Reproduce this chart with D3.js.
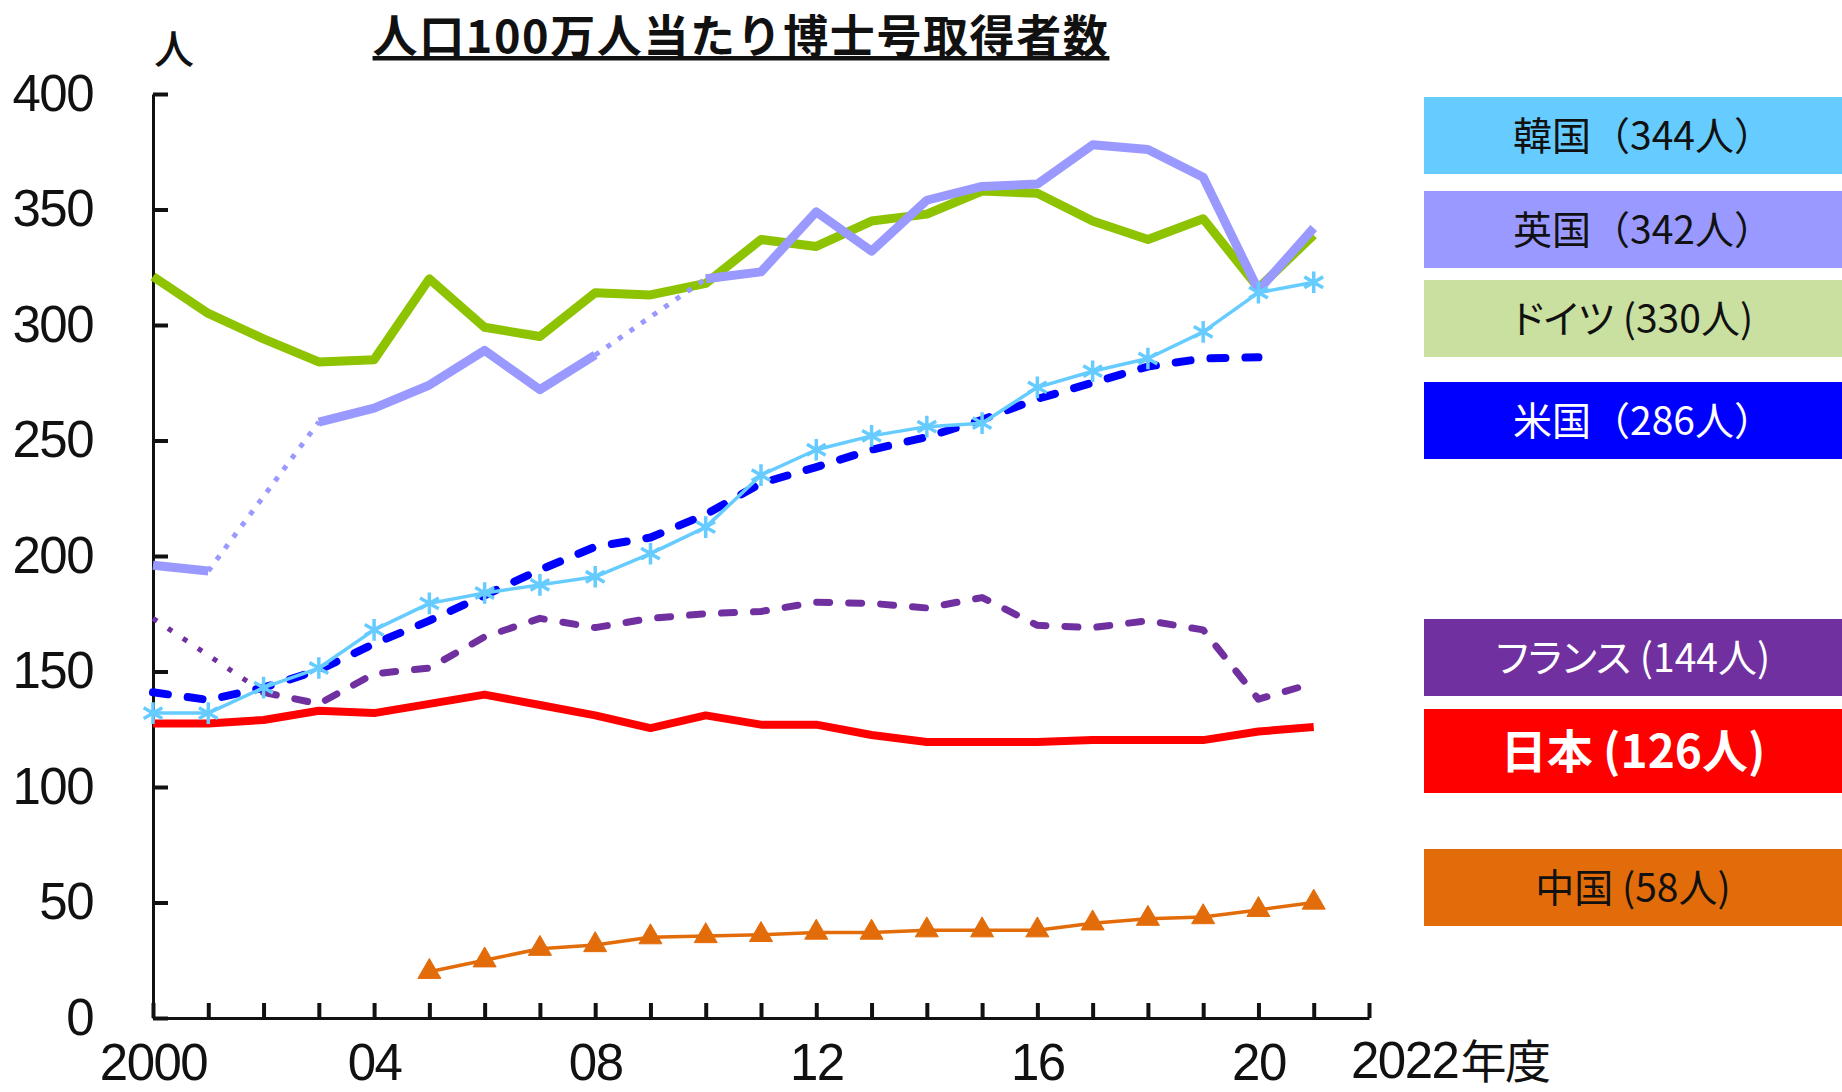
<!DOCTYPE html>
<html>
<head>
<meta charset="utf-8">
<script src="https://cdn.jsdelivr.net/npm/d3@7"></script>
<style>
body { margin: 0; background: #fff; }
svg { display: block; }
.axis text, text.axis { font-family: "Liberation Sans", Arial, sans-serif; fill: #111; letter-spacing: -1.5px; }
.legend text { font-family: "Noto Sans CJK JP", sans-serif; }
.legend text.palt { font-feature-settings: "palt"; }
</style>
</head>
<body>
<svg id="chart" width="1842" height="1092"></svg>
<script>
var years = [2000, 2001, 2002, 2003, 2004, 2005, 2006, 2007, 2008, 2009, 2010,
             2011, 2012, 2013, 2014, 2015, 2016, 2017, 2018, 2019, 2020, 2021];

// 人口100万人当たり博士号取得者数 (null = no data, bridged with dots)
var germany = [321, 305, 294, 284, 285, 320, 299, 295, 314, 313, 318,
               337, 334, 345, 348, 358, 357, 345, 337, 346, 316, 339];
var uk      = [196, 193.5, null, 258, 264, 274, 289, 272, 287, null, 320,
               323, 349, 332, 354, 360, 361, 378, 376, 364, 315, 342];
var france  = [173, null, 141, 136, 149, 151.5, 165, 173, 169, 173, 175,
               176, 180, 179.5, 177.5, 182, 170, 169, 172, 168, 138, 145];
var japan   = [127.5, 127.5, 129, 133, 132, 136, 140, 135.5, 131, 125.5, 131,
               127, 127, 122.5, 119.5, 119.5, 119.5, 120.3, 120.3, 120.3, 124, 126];
var usa     = [141, 137.7, 143, 150.6, 162, 172, 183, 194, 204, 208, 218,
               231.5, 238.5, 246, 251.5, 259, 268, 275, 282, 285.5, 286, null];
var korea   = [132, 132, 143, 151.5, 168, 179.5, 184, 187.5, 191, 201, 212.5,
               235, 246, 252, 256, 257.5, 273, 280, 285.5, 297, 314, 318.5];
var china   = [null, null, null, null, null, 20, 25, 30, 31.6, 35, 35.5,
               36, 37, 37, 38, 38, 38, 41, 43, 43.7, 46.8, 50];

var yTicks = [0, 50, 100, 150, 200, 250, 300, 350, 400];
var xTickYears = [2000, 2001, 2002, 2003, 2004, 2005, 2006, 2007, 2008, 2009, 2010, 2011,
                  2012, 2013, 2014, 2015, 2016, 2017, 2018, 2019, 2020, 2021, 2022];
var xLabelYears = [2000, 2004, 2008, 2012, 2016, 2020];
var xLabels = ["2000", "04", "08", "12", "16", "20"];

var legendLabels = ["韓国（344人）", "英国（342人）", "ドイツ (330人)", "米国（286人）",
                    "フランス (144人)", "日本 (126人)", "中国 (58人)"];

var chartTitle = "人口100万人当たり博士号取得者数";

// styles
var series = [
    {data: germany, color: "#8dc300", width: 9, dash: null, gap: "5 9"},
    {data: uk, color: "#9999ff", width: 9, dash: null, gap: "5 9"},
    {data: france, color: "#7030a0", width: 7, dash: "13 19", gap: "5 13"},
    {data: japan, color: "#ff0000", width: 8, dash: null, gap: "5 9"},
    {data: usa, color: "#0000ff", width: 8, dash: "15 20", gap: "5 9"},
    {data: korea, color: "#66ccff", width: 3.5, dash: null, gap: "5 9", marker: d3.symbolAsterisk, markerSize: 330},
    {data: china, color: "#e36c0a", width: 3.5, dash: null, gap: "5 9", marker: d3.symbolTriangle, markerSize: 230}
];
var legendStyle = [
    {fill: "#66ccff", text: "#111", weight: 400, top: 97, h: 77, dx: 10, palt: false},
    {fill: "#9999ff", text: "#111", weight: 400, top: 191, h: 77, dx: 10, palt: false},
    {fill: "#c9e0a0", text: "#111", weight: 400, top: 280, h: 77, dx: 0, palt: true},
    {fill: "#0000ff", text: "#fff", weight: 400, top: 382, h: 77, dx: 10, palt: false},
    {fill: "#7030a0", text: "#fff", weight: 400, top: 619, h: 77, dx: 0, palt: true},
    {fill: "#ff0000", text: "#fff", weight: 700, top: 709, h: 84, dx: 0, palt: true},
    {fill: "#e36c0a", text: "#111", weight: 400, top: 849, h: 77, dx: 0, palt: true}
];

var svg = d3.select("#chart"),
    margin = {top: 94, left: 153, right: 473, bottom: 74},
    width = +svg.attr("width") - margin.left - margin.right,
    height = +svg.attr("height") - margin.top - margin.bottom;

var xScale = d3.scaleLinear().domain([2000, 2022]).range([0, width]),
    yScale = d3.scaleLinear().domain([0, 400]).range([height, 0]);

var g = svg.append("g")
    .attr("transform", "translate(" + margin.left + "," + margin.top + ")");

// title
svg.append("text")
    .attr("x", 741)
    .attr("y", 53)
    .attr("text-anchor", "middle")
    .attr("font-family", "Noto Sans CJK JP")
    .attr("font-weight", 700)
    .attr("font-size", 45)
    .attr("letter-spacing", "1.6px")
    .attr("fill", "#111")
    .style("text-decoration", "underline")
    .text(chartTitle);

svg.append("text")
    .attr("x", 174)
    .attr("y", 64)
    .attr("text-anchor", "middle")
    .attr("font-family", "Noto Sans CJK JP")
    .attr("font-weight", 500)
    .attr("font-size", 40)
    .attr("fill", "#111")
    .text("人");

// axes
g.append("g")
    .attr("class", "axis")
    .call(d3.axisLeft(yScale).tickValues(yTicks).tickSizeInner(-15).tickSizeOuter(0).tickPadding(60));

g.append("g")
    .attr("class", "axis")
    .attr("transform", "translate(0," + height + ")")
    .call(d3.axisBottom(xScale).tickValues(xTickYears).tickSizeInner(-15).tickSizeOuter(0).tickPadding(26)
        .tickFormat(function(d) {
            var i = xLabelYears.indexOf(d);
            return i < 0 ? "" : xLabels[i];
        }));

g.selectAll(".axis .domain").attr("stroke", "#111").attr("stroke-width", 3);
g.selectAll(".axis .tick line").attr("stroke", "#111").attr("stroke-width", 4);
g.selectAll(".axis text").attr("font-size", 51);

g.append("text")
    .attr("class", "axis")
    .attr("x", xScale(2022) - 18)
    .attr("y", height + 60)
    .attr("font-size", 51)
    .call(function(t) {
        t.append("tspan").text("2022");
        t.append("tspan").attr("font-family", "Noto Sans CJK JP").attr("font-size", 46).attr("dx", 2).text("年度");
    });

// lines
var line = d3.line()
    .defined(function(d) { return d != null; })
    .x(function(d, i) { return xScale(years[i]); })
    .y(function(d) { return yScale(d); });

series.forEach(function(s) {
    // dotted bridges over missing years
    var idx = [];
    s.data.forEach(function(v, i) { if (v != null) idx.push(i); });
    for (var k = 1; k < idx.length; k++) {
        if (idx[k] - idx[k - 1] > 1) {
            var a = idx[k - 1], b = idx[k];
            g.append("line")
                .attr("x1", xScale(years[a])).attr("y1", yScale(s.data[a]))
                .attr("x2", xScale(years[b])).attr("y2", yScale(s.data[b]))
                .attr("stroke", s.color)
                .attr("stroke-width", 5)
                .attr("stroke-dasharray", s.gap);
        }
    }

    g.append("path")
        .datum(s.data)
        .attr("fill", "none")
        .attr("stroke", s.color)
        .attr("stroke-width", s.width)
        .attr("stroke-linejoin", "round")
        .attr("stroke-linecap", s.dash ? "round" : "butt")
        .attr("stroke-dasharray", s.dash)
        .attr("d", line);

    if (s.marker) {
        var sym = d3.symbol().type(s.marker).size(s.markerSize);
        g.selectAll(null)
            .data(s.data.map(function(v, i) { return {v: v, yr: years[i]}; })
                .filter(function(d) { return d.v != null; }))
            .enter().append("path")
            .attr("transform", function(d) { return "translate(" + xScale(d.yr) + "," + yScale(d.v) + ")"; })
            .attr("d", sym)
            .attr("fill", s.marker === d3.symbolAsterisk ? "none" : s.color)
            .attr("stroke", s.color)
            .attr("stroke-width", s.marker === d3.symbolAsterisk ? 3.5 : 1);
    }
});

// legend boxes
var legend = svg.append("g").attr("class", "legend");
legendLabels.forEach(function(label, i) {
    var st = legendStyle[i];
    legend.append("rect")
        .attr("x", 1424).attr("y", st.top)
        .attr("width", 1842 - 1424).attr("height", st.h)
        .attr("fill", st.fill);
    legend.append("text")
        .attr("class", st.palt ? "palt" : null)
        .attr("x", 1633 + st.dx).attr("y", st.top + st.h / 2)
        .attr("dy", "0.36em")
        .attr("text-anchor", "middle")
        .attr("font-size", st.weight === 700 ? 46 : 39)
        .attr("font-weight", st.weight)
        .attr("fill", st.text)
        .text(label);
});
</script>
</body>
</html>
